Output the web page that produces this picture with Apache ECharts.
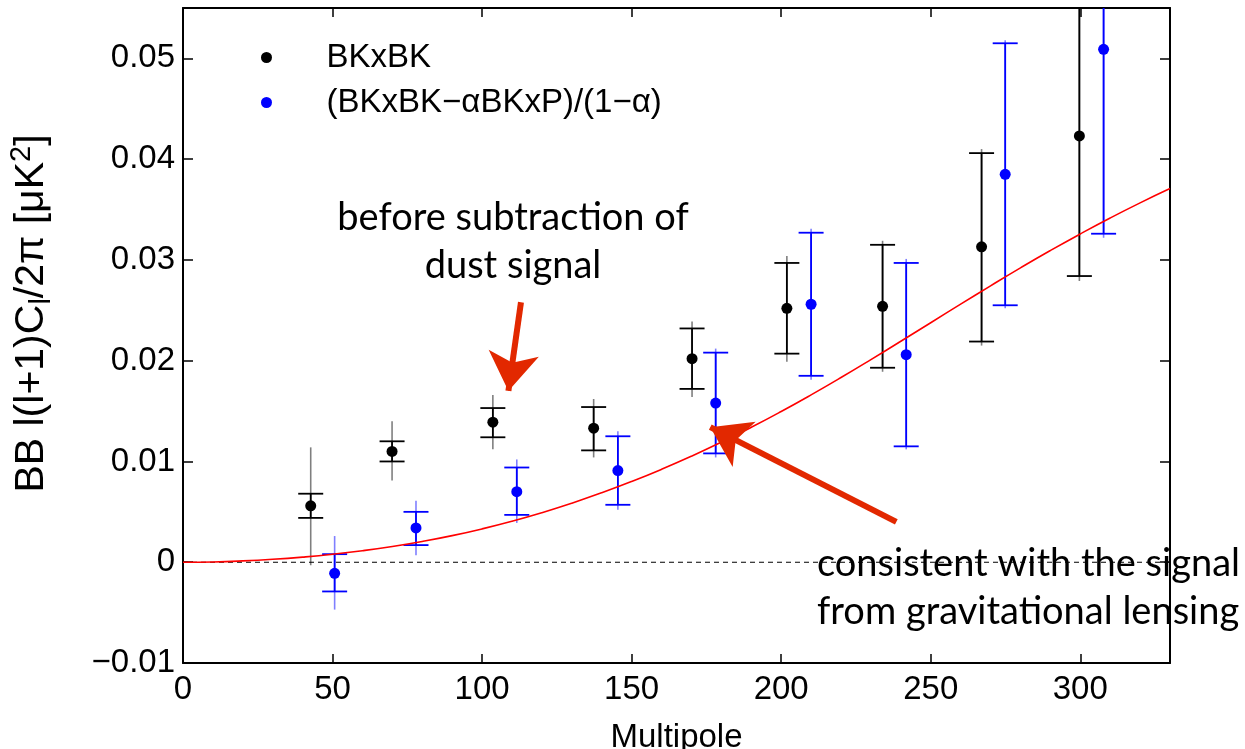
<!DOCTYPE html>
<html>
<head>
<meta charset="utf-8">
<script src="https://cdn.jsdelivr.net/npm/echarts@6/dist/echarts.min.js"></script>
<style>html,body{margin:0;padding:0;background:#fff}#main{width:1245px;height:749px}</style>
</head>
<body>
<div id="main"></div>
<script>
// BKxBK
var bkX = [42.7, 69.9, 103.6, 137.3, 170.2, 201.9, 233.9, 267.0, 299.7];
var bkY = [0.0056, 0.0110, 0.0139, 0.0133, 0.0202, 0.0252, 0.0254, 0.0313, 0.0423];
var bkLo = [0.0044, 0.0100, 0.0124, 0.0111, 0.0172, 0.0207, 0.0193, 0.0219, 0.0284];
var bkHi = [0.0068, 0.0120, 0.0153, 0.0154, 0.0232, 0.0297, 0.0315, 0.0406, 0.0563];
var bkLo2 = [-0.0003, 0.0081, 0.0112, 0.0104, 0.0164, 0.0199, 0.0189, 0.0215, 0.0279];
var bkHi2 = [0.0114, 0.0140, 0.0166, 0.0162, 0.0239, 0.0304, 0.0319, 0.0410, 0.0568];
// (BKxBK-aBKxP)/(1-a)
var bpX = [50.7, 77.9, 111.6, 145.4, 178.1, 210.0, 241.8, 274.9, 307.8];
var bpY = [-0.0011, 0.0034, 0.0070, 0.0091, 0.0158, 0.0256, 0.0206, 0.0385, 0.0509];
var bpLo = [-0.0029, 0.0017, 0.0047, 0.0057, 0.0108, 0.0185, 0.0115, 0.0255, 0.0326];
var bpHi = [0.0008, 0.0050, 0.0094, 0.0125, 0.0208, 0.0327, 0.0297, 0.0515, 0.0692];
var bpLo2 = [-0.0047, 0.0007, 0.0039, 0.0052, 0.0104, 0.0181, 0.0112, 0.0252, 0.0322];
var bpHi2 = [0.0026, 0.0061, 0.0102, 0.0130, 0.0212, 0.0331, 0.0301, 0.0518, 0.0696];
// lensing curve
var lensX = [0, 10, 20, 30, 40, 50, 60, 70, 80, 90, 100, 110, 120, 130, 140, 150, 160, 170, 180, 190, 200, 210, 220, 230, 240, 250, 260, 270, 280, 290, 300, 310, 320, 330];
var lensY = [0, 0.00003, 0.00013, 0.00029, 0.00051, 0.00079, 0.00114, 0.00156, 0.00206, 0.00264, 0.00331, 0.00407, 0.00492, 0.00586, 0.00689, 0.00801, 0.00922, 0.01052, 0.01191, 0.01339, 0.01496, 0.01661, 0.01833, 0.02011, 0.02193, 0.02377, 0.02561, 0.02743, 0.02921, 0.03093, 0.03258, 0.03416, 0.03566, 0.03708];

var chart = echarts.init(document.getElementById('main'));

function rows(x, y, lo, hi, lo2, hi2) {
  return x.map(function (v, i) { return [v, y[i], lo[i], hi[i], lo2[i], hi2[i]]; });
}
function errBars(color, light) {
  return function (params, api) {
    var x = api.value(0);
    var a = api.coord([x, api.value(4)]);
    var b = api.coord([x, api.value(5)]);
    var c = api.coord([x, api.value(2)]);
    var d = api.coord([x, api.value(3)]);
    var w = 12.5;
    return {
      type: 'group',
      children: [
        { type: 'line', shape: { x1: a[0], y1: a[1], x2: b[0], y2: b[1] }, style: { stroke: light, lineWidth: 1.6 } },
        { type: 'line', shape: { x1: c[0], y1: c[1], x2: d[0], y2: d[1] }, style: { stroke: color, lineWidth: 1.8 } },
        { type: 'line', shape: { x1: c[0] - w, y1: c[1], x2: c[0] + w, y2: c[1] }, style: { stroke: color, lineWidth: 1.8 } },
        { type: 'line', shape: { x1: d[0] - w, y1: d[1], x2: d[0] + w, y2: d[1] }, style: { stroke: color, lineWidth: 1.8 } }
      ]
    };
  };
}

var FONT = 'Liberation Sans';

chart.setOption({
  animation: false,
  grid: { left: 183, right: 75, top: 8, bottom: 86, containLabel: false, outerBoundsMode: 'none' },
  legend: {
    left: 256, top: 30, orient: 'vertical', itemGap: 0,
    itemWidth: 110, itemHeight: 11, icon: 'circle',
    textStyle: { fontFamily: FONT, fontSize: 33, lineHeight: 45, color: '#000' },
    data: ['BKxBK', '(BKxBK\u2212\u03b1BKxP)/(1\u2212\u03b1)']
  },
  graphic: [
    {
      type: 'text', z: -1, x: 513, y: 194,
      style: { text: 'before subtraction of\ndust signal', align: 'center', fontFamily: 'Lato', fontSize: 38, lineHeight: 48, fill: '#000' }
    },
    {
      type: 'text', z: -1, x: 817, y: 540,
      style: { text: 'consistent with the signal\nfrom gravitational lensing', align: 'left', fontFamily: 'Lato', fontSize: 38, lineHeight: 48, fill: '#000' }
    }
  ],
  xAxis: [{
    type: 'value', min: 0, max: 330, interval: 50, position: 'bottom',
    name: 'Multipole', nameLocation: 'middle', nameGap: 58,
    nameTextStyle: { fontFamily: FONT, fontSize: 33, color: '#000' },
    axisLine: { onZero: false, lineStyle: { color: '#000', width: 2 } },
    axisTick: { inside: true, length: 9, lineStyle: { color: '#000', width: 1.5 } },
    axisLabel: { showMaxLabel: false, margin: 10, fontFamily: FONT, fontSize: 33, color: '#000' },
    splitLine: { show: false }
  }, {
    type: 'value', min: 0, max: 330, interval: 50, position: 'top',
    axisLine: { onZero: false, lineStyle: { color: '#000', width: 2 } },
    axisTick: { inside: true, length: 9, lineStyle: { color: '#000', width: 1.5 } },
    axisLabel: { show: false }, splitLine: { show: false }
  }],
  yAxis: [{
    type: 'value', min: -0.01, max: 0.055, interval: 0.01, position: 'left',
    name: '{a|BB l(l+1)C}{s|l}{a|/2\u03c0 [\u03bcK}{p|2}{a|]}',
    nameLocation: 'middle', nameGap: 126, nameRotate: 90,
    nameTextStyle: {
      fontFamily: FONT, fontSize: 41, color: '#000', padding: [0, 0, 0, 44],
      rich: {
        a: { fontFamily: FONT, fontSize: 41, color: '#000', lineHeight: 50 },
        s: { fontFamily: FONT, fontSize: 29, color: '#000', lineHeight: 50, padding: [20, 0, 0, 0] },
        p: { fontFamily: FONT, fontSize: 29, color: '#000', lineHeight: 50, padding: [0, 0, 20, 0] }
      }
    },
    axisLine: { onZero: false, lineStyle: { color: '#000', width: 2 } },
    axisTick: { inside: true, length: 10, lineStyle: { color: '#000', width: 1.5 } },
    axisLabel: {
      showMaxLabel: false, margin: 8, fontFamily: FONT, fontSize: 33, color: '#000',
      formatter: function (v) {
        if (Math.abs(v) < 1e-9) return '0';
        return v < 0 ? '\u2212' + Math.abs(v).toFixed(2) : v.toFixed(2);
      }
    },
    splitLine: { show: false }
  }, {
    type: 'value', min: -0.01, max: 0.055, interval: 0.01, position: 'right',
    axisLine: { onZero: false, lineStyle: { color: '#000', width: 2 } },
    axisTick: { inside: true, length: 10, lineStyle: { color: '#000', width: 1.5 } },
    axisLabel: { show: false }, splitLine: { show: false }
  }],
  series: [
    {
      type: 'line', name: 'zero', data: [[0, 0], [330, 0]], symbol: 'none', silent: true,
      lineStyle: { color: '#000', width: 1.2, type: [5, 4] }
    },
    {
      type: 'line', name: 'lensing', data: lensX.map(function (v, i) { return [v, lensY[i]]; }),
      symbol: 'none', smooth: true, silent: true, lineStyle: { color: '#ff0000', width: 1.6 }
    },
    {
      type: 'custom', name: 'bkErr', clip: true, silent: true, z: 3,
      renderItem: errBars('#000', 'rgba(0,0,0,0.5)'),
      data: rows(bkX, bkY, bkLo, bkHi, bkLo2, bkHi2)
    },
    {
      type: 'custom', name: 'bpErr', clip: true, silent: true, z: 3,
      renderItem: errBars('#0000ff', 'rgba(0,0,255,0.5)'),
      data: rows(bpX, bpY, bpLo, bpHi, bpLo2, bpHi2)
    },
    {
      type: 'scatter', name: 'BKxBK', symbolSize: 11, z: 4,
      itemStyle: { color: '#000', opacity: 1 },
      data: bkX.map(function (v, i) { return [v, bkY[i]]; })
    },
    {
      type: 'scatter', name: '(BKxBK\u2212\u03b1BKxP)/(1\u2212\u03b1)', symbolSize: 11, z: 4,
      itemStyle: { color: '#0000ff', opacity: 1 },
      data: bpX.map(function (v, i) { return [v, bpY[i]]; })
    },
    {
      type: 'line', name: 'arrows', data: [], silent: true,
      markLine: {
        silent: true, symbol: ['none', 'arrow'], symbolSize: 38, label: { show: false },
        lineStyle: { color: '#e22800', width: 6, type: 'solid' },
        emphasis: { disabled: true },
        data: [
          [{ coord: [113, 0.0258] }, { coord: [108.8, 0.0170] }],
          [{ coord: [238.5, 0.0040] }, { coord: [176.3, 0.0134] }]
        ]
      }
    }
  ]
});
</script>
</body>
</html>
